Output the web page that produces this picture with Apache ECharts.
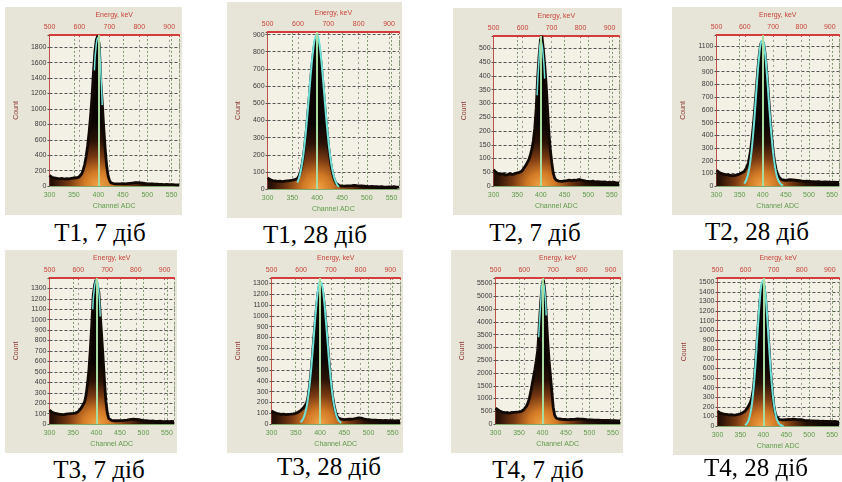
<!DOCTYPE html>
<html>
<head>
<meta charset="utf-8">
<script src="https://cdn.jsdelivr.net/npm/echarts@6/dist/echarts.min.js"></script>
<style>
	body {
		margin: 0;
		width: 842px;
		height: 482px;
		background: #ffffff;
		position: relative;
		overflow: hidden;
	}

	.panel {
		position: absolute;
		background: #e7e5d8;
	}

	.cap {
		position: absolute;
		height: 28px;
		line-height: 28px;
		font-family: "Liberation Serif", serif;
		font-size: 25px;
		color: #000;
		white-space: nowrap;
		transform: translateX(-50%);
	}
</style>
</head>
<body>
<script>
	// channel grid (coarse in the tails, finer across the 662 keV peak)
	const channels = [300, 305, 310, 315, 320, 325, 330, 335, 340, 345, 350, 355, 360,
		363, 366, 369, 372, 375, 378, 381, 384, 387, 390, 393, 396, 399, 402, 405, 408, 411, 414, 417, 420, 423, 426, 429, 432, 435, 438, 441,
		445, 450, 455, 460, 465, 470, 475, 480, 485, 490, 495, 500, 505, 510, 515, 520, 525, 530, 535, 540, 545, 550, 555, 560, 565]
	const fitChannels = [360, 364, 368, 372, 376, 380, 384, 388, 392, 396, 400, 404, 408, 412, 416, 420, 424, 428, 432, 436, 440, 444]

	const captions = ['T1, 7 діб', 'T1, 28 діб', 'T2, 7 діб', 'T2, 28 діб', 'T3, 7 діб', 'T3, 28 діб', 'T4, 7 діб', 'T4, 28 діб']

	const t1d7 = [140, 115, 105, 100, 95, 100, 92, 98, 95, 100, 105, 108, 115,
		130, 160, 210, 280, 380, 520, 690, 900, 1150, 1480, 1750, 1900, 1950, 1820, 1350, 1080, 760, 480, 260, 130, 70, 42, 32, 30, 28, 30, 28,
		30, 32, 28, 32, 36, 40, 44, 46, 42, 40, 34, 30, 28, 27, 25, 24, 22, 22, 20, 21, 19, 20, 18, 17, 16]
	const t1d28 = [65, 55, 50, 48, 45, 47, 44, 46, 48, 50, 52, 55, 62,
		75, 95, 135, 185, 255, 340, 435, 535, 640, 735, 810, 860, 880, 860, 805, 730, 635, 530, 425, 330, 245, 175, 120, 80, 52, 34, 24,
		20, 18, 17, 18, 19, 20, 22, 20, 19, 18, 17, 16, 15, 16, 14, 15, 13, 14, 12, 12, 13, 12, 14, 12, 11]
	const t2d7 = [60, 50, 45, 42, 45, 40, 42, 44, 42, 45, 48, 50, 55,
		62, 70, 78, 88, 98, 115, 135, 165, 210, 280, 390, 470, 530, 545, 500, 440, 370, 280, 190, 130, 85, 48, 30, 22, 20, 18, 18,
		17, 19, 20, 22, 20, 22, 21, 24, 22, 20, 18, 17, 16, 18, 15, 16, 15, 14, 15, 13, 14, 13, 14, 12, 12]
	const t2d28 = [125, 110, 100, 95, 90, 88, 85, 82, 85, 88, 95, 105, 115,
		130, 150, 185, 240, 315, 415, 530, 665, 805, 940, 1050, 1120, 1140, 1120, 1045, 930, 790, 640, 495, 370, 265, 185, 130, 95, 72, 58, 50,
		40, 45, 48, 50, 48, 46, 44, 42, 40, 38, 40, 38, 36, 35, 34, 36, 33, 32, 34, 31, 32, 30, 31, 30, 29]
	const t3d7 = [135, 115, 105, 100, 95, 92, 90, 95, 98, 100, 102, 105, 115,
		125, 145, 165, 190, 215, 280, 390, 520, 720, 950, 1230, 1330, 1380, 1390, 1270, 1050, 850, 640, 420, 220, 110, 55, 38, 35, 33, 32, 30,
		32, 34, 33, 36, 38, 42, 45, 48, 44, 42, 38, 34, 32, 30, 28, 30, 27, 26, 28, 25, 24, 26, 24, 25, 23]
	const t3d28 = [120, 110, 100, 95, 90, 92, 88, 90, 92, 95, 100, 110, 125,
		140, 150, 165, 190, 240, 335, 460, 610, 780, 940, 1090, 1210, 1285, 1300, 1240, 1140, 1000, 835, 665, 505, 370, 260, 175, 115, 75, 55, 48,
		45, 42, 44, 46, 45, 48, 52, 58, 55, 48, 44, 40, 38, 37, 36, 35, 34, 33, 34, 32, 31, 32, 30, 31, 30]
	const t4d7 = [620, 560, 500, 470, 450, 440, 430, 445, 460, 470, 480, 500, 560,
		620, 700, 820, 1000, 1250, 1550, 1850, 2150, 2500, 2900, 3800, 4700, 5400, 5650, 5200, 4300, 3300, 2500, 1900, 1250, 650, 350, 240, 210, 200, 195, 190,
		185, 180, 175, 180, 185, 190, 200, 195, 190, 180, 170, 165, 160, 155, 150, 155, 148, 145, 140, 142, 138, 135, 138, 130, 128]
	const t4d28 = [155, 140, 130, 125, 122, 118, 120, 115, 118, 122, 128, 140, 155,
		175, 195, 215, 250, 300, 380, 520, 720, 930, 1140, 1320, 1440, 1500, 1450, 1320, 1140, 920, 700, 500, 340, 215, 135, 95, 75, 68, 65, 64,
		62, 66, 70, 68, 72, 70, 66, 68, 64, 60, 58, 56, 55, 54, 52, 53, 50, 51, 50, 48, 50, 47, 48, 46, 45]

	// fitted peak (cyan)
	const t1d7Fit = [null, null, null, null, null, null, null, null, 1500, 1850, 1930, 1600, 1050, null, null, null, null, null, null, null, null, null]
	const t1d28Fit = [38, 70, 122, 197, 299, 424, 563, 700, 813, 883, 898, 854, 760, 633, 493, 359, 245, 156, 93, 52, 27, 13]
	const t2d7Fit = [null, null, null, null, null, null, null, null, 330, 460, 530, 490, 390, null, null, null, null, null, null, null, null, null]
	const t2d28Fit = [20, 44, 89, 165, 281, 439, 631, 833, 1009, 1123, 1147, 1076, 927, 733, 532, 355, 217, 122, 63, 30, 13, 5]
	const t3d7Fit = [null, null, null, null, null, null, null, null, 1100, 1320, 1380, 1320, 1030, null, null, null, null, null, null, null, null, null]
	const t3d28Fit = [17, 38, 79, 149, 261, 421, 624, 851, 1070, 1237, 1317, 1290, 1163, 965, 737, 519, 335, 199, 110, 55, 26, 11]
	const t4d7Fit = [null, null, null, null, null, null, null, null, 3400, 4650, 5550, 5350, 4250, null, null, null, null, null, null, null, null, null]
	const t4d28Fit = [10, 26, 63, 136, 264, 460, 722, 1018, 1292, 1476, 1515, 1399, 1163, 868, 584, 353, 192, 94, 41, 16, 6, 2]

	const counts = [t1d7, t1d28, t2d7, t2d28, t3d7, t3d28, t4d7, t4d28]
	const fits = [t1d7Fit, t1d28Fit, t2d7Fit, t2d28Fit, t3d7Fit, t3d28Fit, t4d7Fit, t4d28Fit]
	const countMax = [1960, 915, 545, 1190, 1400, 1350, 5720, 1545]
	const countStep = [200, 100, 50, 100, 100, 100, 500, 100]

	const chMin = 300
	const chMax = 565
	const keVPerChannel = 1.633
	const markChannel = 400

	// panel box + plot box, px
	const layout = [
		{ x: 5, y: 7, w: 177, h: 208, gl: 31, gt: 27, gw: 145, gh: 155, ng: 19, cx: 100, cy: 233 },
		{ x: 227, y: 2, w: 175, h: 216, gl: 25, gt: 30, gw: 149, gh: 164, ng: 13, cx: 315, cy: 235 },
		{ x: 453, y: 8, w: 169, h: 207, gl: 25, gt: 25, gw: 146, gh: 159, ng: 16, cx: 535, cy: 233 },
		{ x: 672, y: 7, w: 170, h: 208, gl: 28, gt: 23, gw: 146, gh: 158, ng: 16, cx: 757, cy: 232 },
		{ x: 5, y: 250, w: 172, h: 203, gl: 31, gt: 25, gw: 140, gh: 157, ng: 17, cx: 99, cy: 470 },
		{ x: 227, y: 250, w: 176, h: 203, gl: 30, gt: 22, gw: 145, gh: 160, ng: 18, cx: 329, cy: 467 },
		{ x: 451, y: 250, w: 172, h: 203, gl: 30, gt: 27, gw: 143, gh: 155, ng: 18, cx: 538, cy: 470 },
		{ x: 673, y: 250, w: 169, h: 205, gl: 29, gt: 24, gw: 147, gh: 158, ng: 17, cx: 756, cy: 468 }
	]

	const font = 'Liberation Sans'

	function makePanel(i) {
		const L = layout[i]
		const box = document.createElement('div')
		box.className = 'panel'
		box.style.left = L.x + 'px'
		box.style.top = L.y + 'px'
		box.style.width = L.w + 'px'
		box.style.height = L.h + 'px'
		document.body.appendChild(box)

		const cap = document.createElement('div')
		cap.className = 'cap'
		cap.style.left = L.cx + 'px'
		cap.style.top = (L.cy - 14) + 'px'
		cap.textContent = captions[i]
		document.body.appendChild(cap)

		const step = countStep[i]
		const top = countMax[i]
		const chart = echarts.init(box)
		chart.setOption({
			animation: false,
			grid: {
				left: L.gl,
				top: L.gt,
				width: L.gw,
				height: L.gh,
				show: true,
				backgroundColor: '#f3f1e6',
				borderWidth: 0
			},
			xAxis: [{
				type: 'value',
				position: 'bottom',
				min: chMin,
				max: chMax,
				interval: 50,
				name: 'Channel ADC',
				nameLocation: 'middle',
				nameGap: 14,
				nameTextStyle: { color: '#5f9a4a', fontSize: 7, fontFamily: font },
				axisLine: { lineStyle: { color: '#7da86a', width: 1 } },
				axisTick: { show: false },
				axisLabel: {
					color: '#5f9a4a', fontSize: 7, fontFamily: font, margin: 5,
					formatter: v => v % 50 === 0 ? v : ''
				},
				splitLine: { show: true, lineStyle: { color: '#7f9a70', type: [2, 2], width: 1 } }
			}, {
				type: 'value',
				position: 'top',
				min: 500,
				max: 500 + (chMax - chMin) * keVPerChannel,
				interval: 100,
				name: 'Energy, keV',
				nameLocation: 'middle',
				nameGap: 15,
				nameTextStyle: { color: '#c8453c', fontSize: 7, fontFamily: font },
				axisLine: { lineStyle: { color: '#d23c3c', width: 2 } },
				axisTick: { show: true, length: 2, inside: true, lineStyle: { color: '#d23c3c' } },
				axisLabel: {
					color: '#c8453c', fontSize: 7, fontFamily: font, margin: 4,
					formatter: v => v % 100 === 0 ? v : ''
				},
				splitLine: { show: true, lineStyle: { color: '#9c9a92', type: [2, 3], width: 1 } }
			}],
			yAxis: {
				type: 'value',
				min: 0,
				max: top,
				interval: step,
				name: 'Count',
				nameLocation: 'middle',
				nameRotate: 90,
				nameGap: L.ng,
				nameTextStyle: { color: '#8e3a36', fontSize: 7, fontFamily: font },
				axisLine: { show: true, lineStyle: { color: '#c0504a', width: 1 } },
				axisTick: { show: true, length: 2, lineStyle: { color: '#555' } },
				axisLabel: {
					color: '#3a3a3a', fontSize: 7, fontFamily: font, margin: 3,
					formatter: v => (v % step === 0 && v < top) ? v : ''
				},
				splitLine: { show: true, lineStyle: { color: '#555555', type: [3, 2], width: 1 } }
			},
			series: [{
				type: 'line',
				xAxisIndex: 0,
				data: channels.map((c, k) => [c, counts[i][k]]),
				symbol: 'none',
				lineStyle: { color: '#120904', width: 2.8 },
				areaStyle: {
					opacity: 1,
					// orange glow at the foot of the peak, black elsewhere
					color: {
						type: 'radial',
						x: (markChannel - chMin) / (chMax - chMin),
						y: 1,
						r: 0.5,
						colorStops: [
							{ offset: 0, color: '#f2a545' },
							{ offset: 0.22, color: '#d27a26' },
							{ offset: 0.45, color: '#7a3a12' },
							{ offset: 0.7, color: '#2a1207' },
							{ offset: 1, color: '#0a0502' }
						]
					}
				},
				markLine: {
					silent: true,
					symbol: 'none',
					label: { show: false },
					lineStyle: { color: '#a8dca0', width: 2, type: 'solid' },
					data: [{ xAxis: markChannel }]
				}
			}, {
				type: 'line',
				xAxisIndex: 0,
				data: fitChannels.map((c, k) => [c, fits[i][k]]),
				smooth: true,
				symbol: 'none',
				connectNulls: false,
				lineStyle: { color: '#6fe2da', width: i % 2 === 0 ? 1.5 : 2 }
			}]
		})
	}

	for (let i = 0; i < 8; i++) {
		makePanel(i)
	}
</script>
</body>
</html>
